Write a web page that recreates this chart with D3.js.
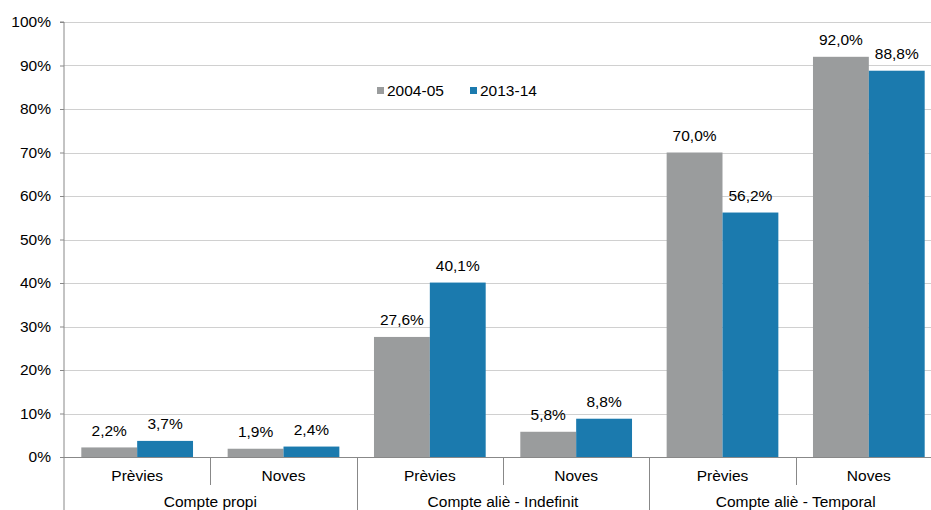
<!DOCTYPE html>
<html>
<head>
<meta charset="utf-8">
<script src="https://cdn.jsdelivr.net/npm/d3@7"></script>
<style>
  body { margin: 0; background: #fff; }
  text { font-family: "Liberation Sans", Arial, sans-serif; fill: #000; }
</style>
</head>
<body>
<svg id="chart"></svg>
<script>
const groups = ['Compte propi', 'Compte aliè - Indefinit', 'Compte aliè - Temporal'];
const subCategories = ['Prèvies', 'Noves'];
const seriesNames = ['2004-05', '2013-14'];
const values2004 = [2.2, 1.9, 27.6, 5.8, 70.0, 92.0];
const values2013 = [3.7, 2.4, 40.1, 8.8, 56.2, 88.8];
const yTicks = [0, 10, 20, 30, 40, 50, 60, 70, 80, 90, 100];

const colors = ['#9a9c9d', '#1b7aae'];

const width = 931;
const height = 510;
const margin = { top: 22, left: 64 };
const plotRight = 942;
const plotBottom = 457;
const fontSize = '15.5px';

const svg = d3.select('#chart')
  .attr('width', width)
  .attr('height', height);

// one entry per bottom category
const cats = [];
groups.forEach((g, gi) => {
  subCategories.forEach((s, si) => {
    cats.push({ id: `${gi}-${si}`, group: g, label: s });
  });
});

const x = d3.scaleBand()
  .domain(cats.map((c) => c.id))
  .range([margin.left, plotRight])
  .padding(0);

const xInner = d3.scaleBand()
  .domain(seriesNames)
  .range([0, x.bandwidth()])
  .paddingOuter(0.31)
  .paddingInner(0);

const y = d3.scaleLinear()
  .domain([0, 100])
  .range([plotBottom, margin.top]);

// gridlines
svg.append('g')
  .selectAll('line')
  .data(yTicks.filter((t) => t > 0))
  .join('line')
  .attr('x1', margin.left)
  .attr('x2', plotRight)
  .attr('y1', (d) => Math.round(y(d)) + 0.5)
  .attr('y2', (d) => Math.round(y(d)) + 0.5)
  .attr('stroke', '#d0d0d0')
  .attr('stroke-width', 1);

// y axis
const yAxis = svg.append('g')
  .attr('transform', `translate(${margin.left},0)`)
  .call(d3.axisLeft(y).tickValues(yTicks).tickSize(4).tickFormat((d) => `${d}%`));
yAxis.select('.domain').attr('stroke', '#888').attr('d', `M-4,${margin.top}H0V${height}`);
yAxis.selectAll('.tick line').attr('stroke', '#888');
yAxis.selectAll('.tick text')
  .attr('x', -13)
  .style('font-family', '"Liberation Sans", Arial, sans-serif')
  .style('font-size', fontSize)
  .attr('fill', '#000');

// bars
const rows = cats.map((c, i) => ({ id: c.id, vals: [values2004[i], values2013[i]] }));
const barGroups = svg.append('g')
  .selectAll('g')
  .data(rows)
  .join('g')
  .attr('transform', (d) => `translate(${x(d.id)},0)`);

barGroups.selectAll('rect')
  .data((d) => d.vals.map((v, i) => ({ key: seriesNames[i], v, i })))
  .join('rect')
  .attr('x', (d) => xInner(d.key))
  .attr('width', xInner.bandwidth())
  .attr('y', (d) => y(d.v))
  .attr('height', (d) => plotBottom - y(d.v))
  .attr('fill', (d) => colors[d.i]);

barGroups.selectAll('text')
  .data((d) => d.vals.map((v, i) => ({ key: seriesNames[i], v, i })))
  .join('text')
  .attr('x', (d) => xInner(d.key) + xInner.bandwidth() / 2)
  .attr('y', (d) => y(d.v) - 11.5)
  .attr('text-anchor', 'middle')
  .style('font-size', fontSize)
  .text((d) => `${d.v.toFixed(1).replace('.', ',')}%`);

// x axis baseline
svg.append('line')
  .attr('x1', margin.left)
  .attr('x2', plotRight)
  .attr('y1', plotBottom + 0.5)
  .attr('y2', plotBottom + 0.5)
  .attr('stroke', '#888');

// category separators, longer between groups
svg.append('g')
  .selectAll('line')
  .data(cats.slice(1))
  .join('line')
  .attr('x1', (d) => Math.round(x(d.id)) + 0.5)
  .attr('x2', (d) => Math.round(x(d.id)) + 0.5)
  .attr('y1', plotBottom)
  .attr('y2', (d) => (d.id.endsWith('-0') ? height : 485))
  .attr('stroke', '#888');

// sub category labels
svg.append('g')
  .selectAll('text')
  .data(cats)
  .join('text')
  .attr('x', (d) => x(d.id) + x.bandwidth() / 2)
  .attr('y', 481)
  .attr('text-anchor', 'middle')
  .style('font-size', fontSize)
  .text((d) => d.label);

// group labels (sit at the very bottom edge, as in the source)
svg.append('g')
  .selectAll('text')
  .data(groups)
  .join('text')
  .attr('x', (d, i) => x(`${i}-0`) + x.bandwidth())
  .attr('y', 507)
  .attr('text-anchor', 'middle')
  .style('font-size', fontSize)
  .text((d) => d);

// legend
const legend = svg.append('g')
  .attr('transform', 'translate(377,96)');
const legendX = [0, 93];
seriesNames.forEach((s, i) => {
  legend.append('rect')
    .attr('x', legendX[i])
    .attr('y', -9)
    .attr('width', 7)
    .attr('height', 7)
    .attr('fill', colors[i]);
  legend.append('text')
    .attr('x', legendX[i] + 10)
    .attr('y', 0)
    .style('font-size', fontSize)
    .text(s);
});
</script>
</body>
</html>
